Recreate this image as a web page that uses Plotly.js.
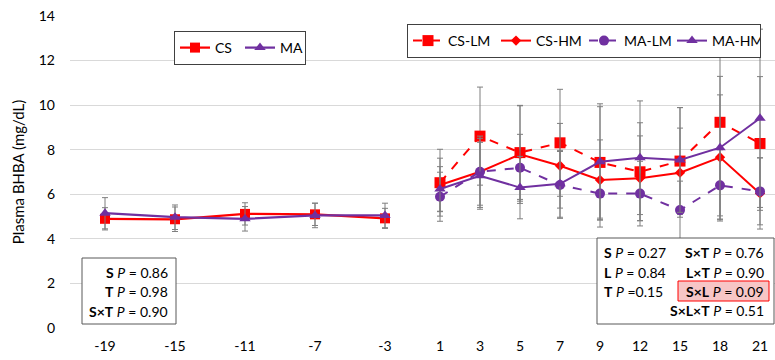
<!DOCTYPE html>
<html>
<head>
<meta charset="utf-8">
<script src="https://cdn.plot.ly/plotly-3.0.1.min.js"></script>
<style>html,body{margin:0;padding:0;background:#fff;}#chart{width:775px;height:360px;}</style>
</head>
<body>
<div id="chart"></div>
<script>
// ---- data ----
const preTimes = ['-19', '-15', '-11', '-7', '-3'];
const csPre = [4.90, 4.88, 5.12, 5.10, 4.92];
const csPreErr = [0.50, 0.55, 0.50, 0.50, 0.45];
const maPre = [5.15, 4.97, 4.90, 5.05, 5.05];
const maPreErr = [0.70, 0.55, 0.55, 0.55, 0.55];

const postTimes = ['1', '3', '5', '7', '9', '12', '15', '18', '21'];
const csLM = [6.52, 8.61, 7.87, 8.31, 7.43, 7.01, 7.49, 9.23, 8.28];
const csLMErr = [1.50, 2.20, 2.10, 2.40, 2.50, 2.20, 2.40, 4.20, 3.00];
const csHM = [6.42, 7.01, 7.79, 7.28, 6.64, 6.72, 6.97, 7.66, 6.04];
const csHMErr = [1.20, 1.60, 2.20, 1.90, 1.80, 1.90, 2.00, 2.80, 1.60];
const maLM = [5.89, 7.01, 7.19, 6.42, 6.03, 6.03, 5.29, 6.40, 6.13];
const maLMErr = [1.10, 1.50, 1.50, 1.50, 1.50, 1.45, 1.30, 1.60, 1.50];
const maHM = [6.24, 6.83, 6.30, 6.47, 7.46, 7.64, 7.54, 8.09, 9.41];
const maHMErr = [1.00, 1.50, 1.40, 1.50, 2.60, 2.55, 2.35, 3.20, 4.00];

const leftStats = [['S', '0.86'], ['T', '0.98'], ['S×T', '0.90']];
const rightStatsCol1 = [['S', '= 0.27'], ['L', '= 0.84'], ['T', '=0.15']];
const rightStatsCol2 = [['S×T', '0.76'], ['L×T', '0.90'], ['S×L', '0.09'], ['S×L×T', '0.51']];

// ---- styles ----
const RED = '#ff0000', PURPLE = '#7030a0', GREY = '#7f7f7f';
function err(arr) { return {type: 'data', array: arr, visible: true, color: GREY, thickness: 1, width: 3}; }

const traces = [
  {x: preTimes, y: csPre, name: 'CS', xaxis: 'x', yaxis: 'y', legend: 'legend', mode: 'lines+markers',
   line: {color: RED, width: 2.25}, marker: {symbol: 'square', size: 10, color: RED}, error_y: err(csPreErr)},
  {x: preTimes, y: maPre, name: 'MA', xaxis: 'x', yaxis: 'y', legend: 'legend', mode: 'lines+markers',
   line: {color: PURPLE, width: 2.25}, marker: {symbol: 'triangle-up', size: 10, color: PURPLE}, error_y: err(maPreErr)},
  {x: postTimes, y: csLM, name: 'CS-LM', xaxis: 'x2', yaxis: 'y', legend: 'legend2', mode: 'lines+markers',
   line: {color: RED, width: 2, dash: 'dash'}, marker: {symbol: 'square', size: 11, color: RED}, error_y: err(csLMErr)},
  {x: postTimes, y: csHM, name: 'CS-HM', xaxis: 'x2', yaxis: 'y', legend: 'legend2', mode: 'lines+markers',
   line: {color: RED, width: 2}, marker: {symbol: 'diamond', size: 8, color: RED}, error_y: err(csHMErr)},
  {x: postTimes, y: maLM, name: 'MA-LM', xaxis: 'x2', yaxis: 'y', legend: 'legend2', mode: 'lines+markers',
   line: {color: PURPLE, width: 2, dash: 'dash'}, marker: {symbol: 'circle', size: 10, color: PURPLE}, error_y: err(maLMErr)},
  {x: postTimes, y: maHM, name: 'MA-HM', xaxis: 'x2', yaxis: 'y', legend: 'legend2', mode: 'lines+markers',
   line: {color: PURPLE, width: 2}, marker: {symbol: 'triangle-up', size: 10, color: PURPLE}, error_y: err(maHMErr)}
];

// ---- layout geometry helpers (pixels -> paper) ----
const L = 70, T = 16, W = 705, H = 312;
const px = v => (v - L) / W;
const py = v => (T + H - v) / H;

const annotations = [];
const shapes = [];
const FONT = 'Lato, "Open Sans", sans-serif';

// left stats box
shapes.push({type: 'rect', xref: 'paper', yref: 'paper', x0: px(82), x1: px(176), y0: py(324), y1: py(258),
  line: {color: '#595959', width: 1}, fillcolor: '#ffffff', layer: 'above'});
[272, 291, 311].forEach((yy, i) => {
  annotations.push({xref: 'paper', yref: 'paper', x: px(170), y: py(yy), xanchor: 'right', yanchor: 'middle',
    showarrow: false, text: '<b>' + leftStats[i][0] + '</b> <i>P</i> = ' + leftStats[i][1],
    font: {family: FONT, size: 14, color: '#000'}});
});

// right stats box
shapes.push({type: 'rect', xref: 'paper', yref: 'paper', x0: px(597), x1: px(774), y0: py(324), y1: py(238),
  line: {color: '#595959', width: 1}, fillcolor: '#ffffff', layer: 'above'});
shapes.push({type: 'rect', xref: 'paper', yref: 'paper', x0: px(678), x1: px(769), y0: py(301), y1: py(281),
  line: {color: '#ff0000', width: 1}, fillcolor: '#f7c6c6', layer: 'above'});
const rowsY = [252, 272, 291, 310];
rightStatsCol1.forEach((r, i) => {
  annotations.push({xref: 'paper', yref: 'paper', x: px(602), y: py(rowsY[i]), xanchor: 'left', yanchor: 'middle',
    showarrow: false, text: '<b>' + r[0] + '</b> <i>P</i> ' + r[1],
    font: {family: FONT, size: 14, color: '#000'}});
});
rightStatsCol2.forEach((r, i) => {
  annotations.push({xref: 'paper', yref: 'paper', x: px(766), y: py(rowsY[i]), xanchor: 'right', yanchor: 'middle',
    showarrow: false, text: '<b>' + r[0] + '</b> <i>P</i> = ' + r[1],
    font: {family: FONT, size: 14, color: '#000'}});
});

const gridC = '#d9d9d9';
const layout = {
  width: 775, height: 360,
  margin: {l: L, r: 0, t: T, b: 360 - T - H, pad: 0, autoexpand: false},
  paper_bgcolor: '#fff', plot_bgcolor: '#fff',
  font: {family: FONT, size: 14, color: '#000'},
  showlegend: true,
  xaxis: {type: 'category', domain: [0, px(420)], anchor: 'y', range: [-0.5, 4.5],
    showgrid: false, zeroline: false, showline: false, ticks: '', tickfont: {size: 14}, ticklabelstandoff: 8},
  xaxis2: {type: 'category', domain: [px(420), 1], anchor: 'y', range: [-0.5, 8.375],
    showgrid: false, zeroline: false, showline: false, ticks: '', tickfont: {size: 14}, ticklabelstandoff: 8},
  yaxis: {range: [0, 14], dtick: 2, showgrid: true, gridcolor: gridC, gridwidth: 1, zeroline: false,
    showline: false, ticks: '', ticklabelstandoff: 14, tickfont: {size: 14},
    title: {text: 'Plasma BHBA (mg/dL)', font: {size: 15}, standoff: 10}},
  legend: {orientation: 'h', x: px(174), y: py(31), xanchor: 'left', yanchor: 'top',
    bgcolor: '#fff', bordercolor: '#404040', borderwidth: 1, font: {size: 14}, itemwidth: 30,
    entrywidth: 20, entrywidthmode: 'pixels'},
  legend2: {orientation: 'h', x: px(407), y: py(24), xanchor: 'left', yanchor: 'top',
    bgcolor: '#fff', bordercolor: '#404040', borderwidth: 1, font: {size: 14}, itemwidth: 30,
    entrywidth: 43, entrywidthmode: 'pixels'},
  shapes: shapes,
  annotations: annotations
};

Plotly.newPlot('chart', traces, layout, {displayModeBar: false, staticPlot: true});
</script>
</body>
</html>
